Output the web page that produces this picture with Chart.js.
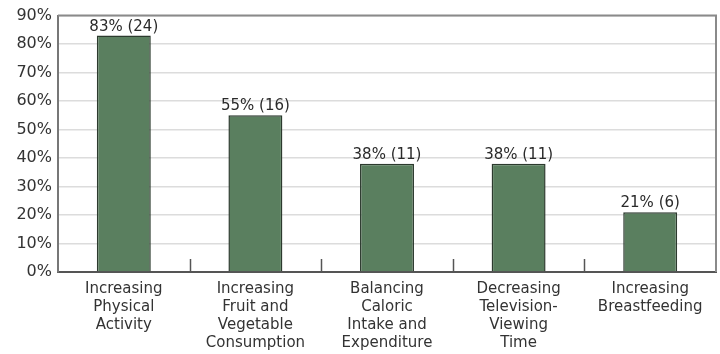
<!DOCTYPE html>
<html>
<head>
<meta charset="utf-8">
<script src="https://cdn.jsdelivr.net/npm/chart.js@4/dist/chart.umd.min.js"></script>
<style>
html,body{margin:0;padding:0;background:#fff;}
#wrap{width:720px;height:354px;position:relative;}
</style>
</head>
<body>
<div id="wrap"><canvas id="c" width="720" height="354"></canvas></div>
<script>
const categories = [
  ["Increasing", "Physical", "Activity"],
  ["Increasing", "Fruit and", "Vegetable", "Consumption"],
  ["Balancing", "Caloric", "Intake and", "Expenditure"],
  ["Decreasing", "Television-", "Viewing", "Time"],
  ["Increasing", "Breastfeeding"]
];
const percentValues = [83, 55, 38, 38, 21];
const countValues = [24, 16, 11, 11, 6];
const yTicks = [0, 10, 20, 30, 40, 50, 60, 70, 80, 90];

const FONT = "'DejaVu Sans', Verdana, sans-serif";

const framePlugin = {
  id: 'frame',
  beforeDatasetsDraw(chart) {
    const {ctx, chartArea: a, scales: {x}} = chart;
    ctx.save();
    ctx.strokeStyle = '#8a8a8a';
    ctx.lineWidth = 2;
    ctx.beginPath();
    ctx.moveTo(a.left, a.top);
    ctx.lineTo(a.right, a.top);
    ctx.lineTo(a.right, a.bottom);
    ctx.stroke();
    ctx.strokeStyle = '#555';
    ctx.lineWidth = 1.5;
    for (let i = 1; i < categories.length; i++) {
      const px = (x.getPixelForValue(i - 1) + x.getPixelForValue(i)) / 2;
      ctx.beginPath();
      ctx.moveTo(Math.round(px) + 0.5, a.bottom);
      ctx.lineTo(Math.round(px) + 0.5, a.bottom - 13);
      ctx.stroke();
    }
    ctx.restore();
  },
  afterDatasetsDraw(chart) {
    const {ctx} = chart;
    const meta = chart.getDatasetMeta(0);
    ctx.save();
    ctx.font = "15px " + FONT;
    ctx.fillStyle = '#2a2a2a';
    ctx.textAlign = 'center';
    ctx.textBaseline = 'alphabetic';
    meta.data.forEach((bar, i) => {
      ctx.fillText(percentValues[i] + '% (' + countValues[i] + ')', bar.x, bar.y - 5);
    });
    ctx.restore();
  }
};

new Chart(document.getElementById('c'), {
  type: 'bar',
  data: {
    labels: categories,
    datasets: [{
      data: percentValues,
      backgroundColor: '#5a7f5f',
      borderColor: '#2c3a2e',
      borderWidth: 1.5,
      categoryPercentage: 1,
      barPercentage: 0.41
    }]
  },
  options: {
    responsive: false,
    animation: false,
    layout: {padding: {top: 14, right: 4, left: 0, bottom: 0}},
    plugins: {legend: {display: false}, tooltip: {enabled: false}},
    scales: {
      x: {
        grid: {display: false},
        border: {display: true, color: '#555', width: 2},
        ticks: {
          color: '#333',
          font: {family: FONT, size: 15, lineHeight: 1.2},
          padding: 0,
          maxRotation: 0,
          autoSkip: false
        },
        afterFit(s) { s.height = 82; }
      },
      y: {
        min: 0,
        max: 90,
        afterBuildTicks(s) { s.ticks = yTicks.map(v => ({value: v})); },
        grid: {color: '#dcdcdc', lineWidth: 1.5, drawTicks: false},
        border: {display: true, color: '#777', width: 2},
        ticks: {
          color: '#333',
          font: {family: FONT, size: 16},
          padding: 6,
          callback: v => v + '%'
        },
        afterFit(s) { s.width = 58; }
      }
    }
  },
  plugins: [framePlugin]
});
</script>
</body>
</html>
